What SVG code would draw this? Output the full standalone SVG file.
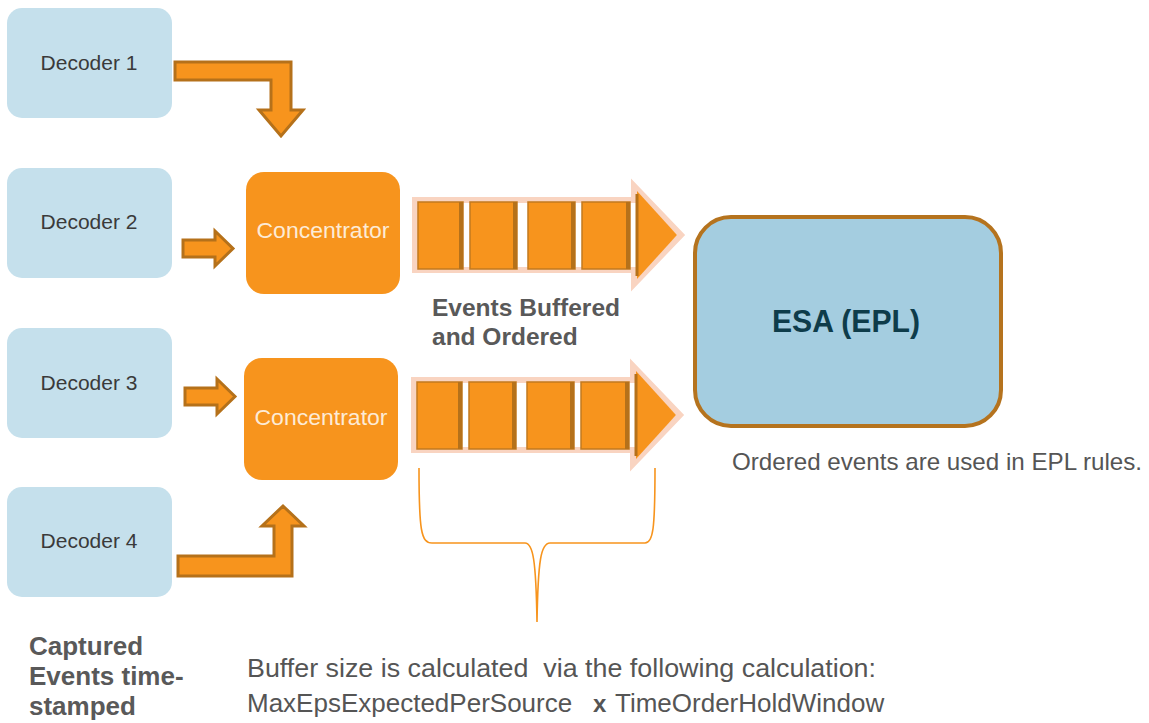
<svg xmlns="http://www.w3.org/2000/svg" xmlns:xlink="http://www.w3.org/1999/xlink" width="1149" height="723" viewBox="0 0 1149 723">
  <style>
    .dec{fill:#c5e0ec}
    .dect{font-family:"Liberation Sans",Arial,sans-serif;font-size:21px;fill:#3a3a3a;text-anchor:middle}
    .conc{fill:#f7941d}
    .conct{font-family:"Liberation Sans",Arial,sans-serif;font-size:21.5px;fill:#fdebd6;text-anchor:middle}
    .arr{fill:#f7941d;stroke:#b5711a;stroke-width:3;stroke-linejoin:miter}
    .lbl{font-family:"Liberation Sans",Arial,sans-serif;font-weight:bold;fill:#595959}
    .txt{font-family:"Liberation Sans",Arial,sans-serif;fill:#555555}
    .cell{fill:#f7941d;stroke:#c27a1f;stroke-width:1.5}
    .cellr{fill:#b5711a}
  </style>
  <defs>
    <g id="buf">
      <path d="M415,200 L634,200 L634,186 L681,235 L634,284 L634,270 L415,270 Z" fill="#ffffff" stroke="#f9d4c1" stroke-width="6" stroke-linejoin="miter"/>
      <polygon points="637,191 677,235 637,279" fill="#f7941d"/>
      <line x1="637" y1="194" x2="637" y2="276" stroke="#b5711a" stroke-width="3"/>
      <rect class="cell" x="418" y="202" width="45" height="67"/>
      <rect class="cellr" x="459" y="202" width="4" height="67"/>
      <rect class="cell" x="470" y="202" width="47" height="67"/>
      <rect class="cellr" x="513" y="202" width="4" height="67"/>
      <rect class="cell" x="528" y="202" width="47" height="67"/>
      <rect class="cellr" x="571" y="202" width="4" height="67"/>
      <rect class="cell" x="582" y="202" width="48" height="67"/>
      <rect class="cellr" x="626" y="202" width="4" height="67"/>
    </g>
  </defs>
  <rect width="1149" height="723" fill="#ffffff"/>

  <g id="decoder1"><rect class="dec" x="7" y="8" width="165" height="110" rx="15"/><text class="dect" x="89" y="70">Decoder 1</text></g>
  <g id="decoder2"><rect class="dec" x="7" y="168" width="165" height="110" rx="15"/><text class="dect" x="89" y="229">Decoder 2</text></g>
  <g id="decoder3"><rect class="dec" x="7" y="328" width="165" height="110" rx="15"/><text class="dect" x="89" y="390">Decoder 3</text></g>
  <g id="decoder4"><rect class="dec" x="7" y="487" width="165" height="110" rx="15"/><text class="dect" x="89" y="548">Decoder 4</text></g>

  <g id="concentrator1"><rect class="conc" x="246" y="172" width="154" height="122" rx="18"/><text class="conct" x="323" y="238" textLength="133" lengthAdjust="spacingAndGlyphs">Concentrator</text></g>
  <g id="concentrator2"><rect class="conc" x="244" y="358" width="154" height="122" rx="18"/><text class="conct" x="321" y="425" textLength="133" lengthAdjust="spacingAndGlyphs">Concentrator</text></g>

  <g id="buffer1"><use xlink:href="#buf"/></g>
  <g id="buffer2"><use xlink:href="#buf" transform="translate(-1,180)"/></g>

  <g id="esa">
    <rect x="695" y="217" width="306" height="209" rx="36" fill="#a4cde0" stroke="#b5731e" stroke-width="4"/>
    <text x="846" y="332" font-family="Liberation Sans,Arial,sans-serif" font-weight="bold" font-size="31" fill="#0e3c4a" text-anchor="middle" textLength="148" lengthAdjust="spacingAndGlyphs">ESA (EPL)</text>
  </g>

  <g id="connectors">
    <path class="arr" d="M175,62 L291,62 L291,110 L303,110 L281,136 L259,110 L271,110 L271,80 L175,80 Z"/>
    <path class="arr" d="M183,240 L215,240 L215,231 L233,248.5 L215,266 L215,257 L183,257 Z"/>
    <path class="arr" d="M185,388 L217,388 L217,379 L235,396.5 L217,414 L217,405 L185,405 Z"/>
    <path class="arr" d="M178,576 L292,576 L292,526 L304,526 L283,506 L262,526 L274,526 L274,556 L178,556 Z"/>
    <path d="M419,468 C419,530 421,543 432,543 L525,543 C533,543 536,560 537,622 C538,560 541,543 550,543 L645,543 C653,543 655,530 655,468" fill="none" stroke="#f7941d" stroke-width="1.6"/>
  </g>

  <g id="labels">
    <text class="lbl" font-size="24.5" x="432" y="316" textLength="188" lengthAdjust="spacingAndGlyphs">Events Buffered</text>
    <text class="lbl" font-size="24.5" x="432" y="345">and Ordered</text>
    <text class="txt" font-size="24" x="732" y="470" textLength="410" lengthAdjust="spacingAndGlyphs">Ordered events are used in EPL rules.</text>
    <text class="lbl" font-size="26" x="29" y="655">Captured</text>
    <text class="lbl" font-size="26" x="29" y="685">Events time-</text>
    <text class="lbl" font-size="26" x="29" y="715">stamped</text>
    <text class="txt" font-size="26" x="247" y="677" textLength="629" lengthAdjust="spacingAndGlyphs" xml:space="preserve">Buffer size is calculated  via the following calculation:</text>
    <text class="txt" font-size="26" x="247" y="712">MaxEpsExpectedPerSource</text>
    <text class="txt" font-size="24" font-weight="bold" x="593" y="712" fill="#333333">x</text>
    <text class="txt" font-size="26" x="615" y="712">TimeOrderHoldWindow</text>
  </g>
</svg>
